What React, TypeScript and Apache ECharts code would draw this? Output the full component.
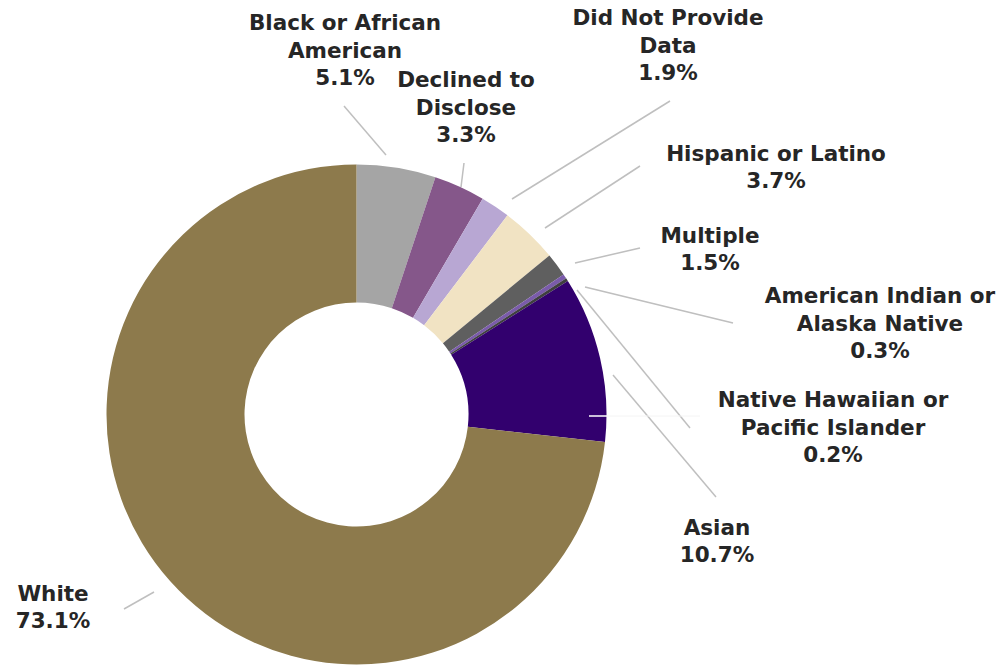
import React, { useEffect, useRef } from "react";
import * as echarts from "echarts";

const categories = [
  "Black or African American",
  "Declined to Disclose",
  "Did Not Provide Data",
  "Hispanic or Latino",
  "Multiple",
  "American Indian or Alaska Native",
  "Native Hawaiian or Pacific Islander",
  "Asian",
  "White",
];
const displayNames = [
  "Black or African\nAmerican",
  "Declined to\nDisclose",
  "Did Not Provide\nData",
  "Hispanic or Latino",
  "Multiple",
  "American Indian or\nAlaska Native",
  "Native Hawaiian or\nPacific Islander",
  "Asian",
  "White",
];
const values = [5.1, 3.3, 1.9, 3.7, 1.5, 0.3, 0.2, 10.7, 73.1];
const colors = [
  "#A5A5A5",
  "#85578A",
  "#B8A7D3",
  "#F1E3C3",
  "#5F5F5F",
  "#7A5BAA",
  "#3F3F3F",
  "#32006E",
  "#8D7A4C",
];

// label text centers and leader line segments (layout only)
const labelPos: [number, number][] = [
  [345, 50],
  [466, 107],
  [668, 45],
  [776, 167],
  [710, 249],
  [880, 323],
  [833, 427],
  [717, 541],
  [53, 607],
];
const leaderLines: [number, number, number, number][] = [
  [344, 106, 386, 155],
  [464, 163, 461, 187],
  [670, 101, 512, 199],
  [640, 166, 545, 228],
  [640, 248, 575, 263],
  [733, 323, 585, 287],
  [690, 428, 577, 290],
  [716, 497, 613, 375],
  [124, 609, 154, 592],
];

export default function App() {
  const ref = useRef<HTMLDivElement>(null);
  useEffect(() => {
    if (!ref.current) return;
    const chart = echarts.init(ref.current, null, { renderer: "svg" });
    chart.setOption({
      animation: false,
      backgroundColor: "#FFFFFF",
      graphic: [
        {
          type: "line",
          shape: { x1: 589, y1: 416, x2: 607, y2: 416 },
          style: { stroke: "#FFFFFF", lineWidth: 1.5 },
          z: 100,
        },
        {
          type: "line",
          shape: { x1: 607, y1: 416, x2: 700, y2: 416 },
          style: { stroke: "#F4F4F4", lineWidth: 1 },
          z: 100,
        },
      ],
      series: [
        {
          type: "pie",
          center: [356.5, 414.5],
          radius: [112, 250],
          startAngle: 90,
          clockwise: true,
          avoidLabelOverlap: false,
          data: categories.map((name, i) => ({
            name,
            value: values[i],
            itemStyle: { color: colors[i] },
          })),
          label: {
            show: true,
            formatter: (p: any) => `${displayNames[p.dataIndex]}\n${values[p.dataIndex].toFixed(1)}%`,
            fontFamily: "DejaVu Sans",
            fontWeight: "bold",
            fontSize: 21.5,
            lineHeight: 27.5,
            color: "#262626",
            align: "center",
          },
          labelLine: {
            show: true,
            lineStyle: { color: "#BFBFBF", width: 1.5 },
          },
          labelLayout: (params: any) => {
            const i = params.dataIndex;
            const l = leaderLines[i];
            return {
              x: labelPos[i][0],
              y: labelPos[i][1],
              align: "center",
              verticalAlign: "middle",
              labelLinePoints: [
                [l[0], l[1]],
                [l[2], l[3]],
                [l[2], l[3]],
              ],
            };
          },
          emphasis: { disabled: true },
        },
      ],
    });
    return () => chart.dispose();
  }, []);
  return (
    <div
      ref={ref}
      style={{ position: "fixed", left: 0, top: 0, width: 1006, height: 667 }}
    />
  );
}
